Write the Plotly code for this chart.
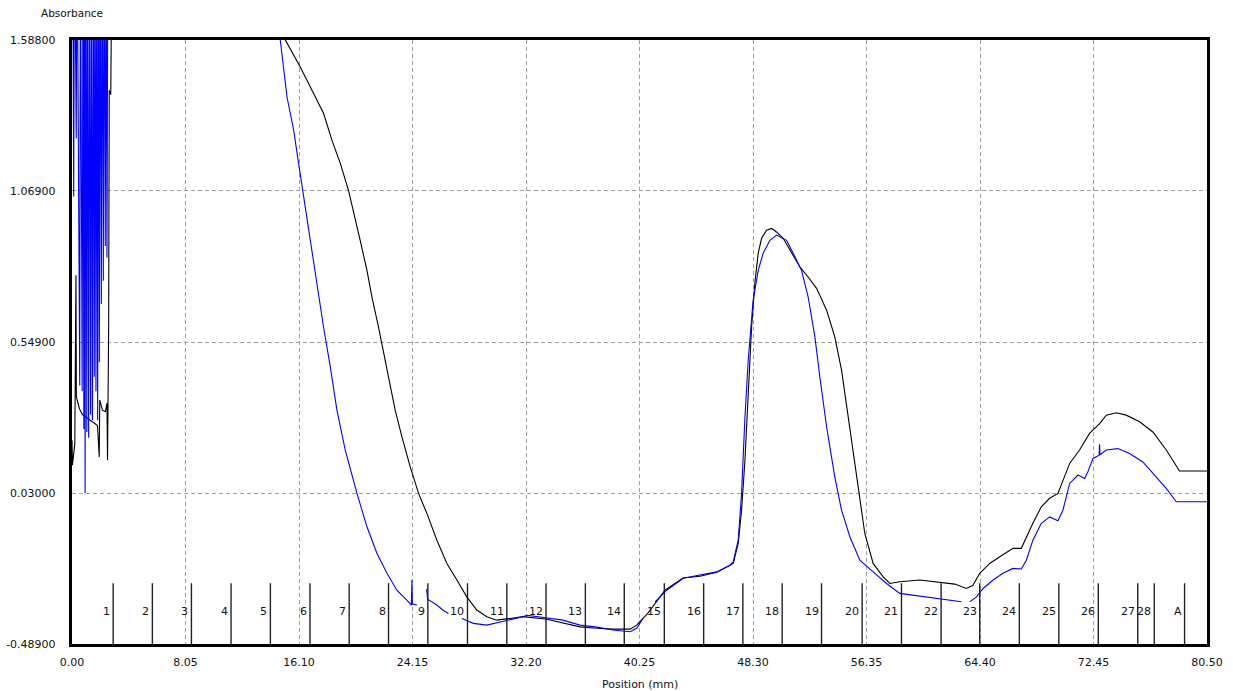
import plotly.graph_objects as go

# Off-scale readings (detector saturated) are stored as SAT; they lie above the plotted range.
SAT = 2.0

# ---- scan 1 (black) ----
black_pos = [
    0.00, 0.03, 0.20, 0.28, 0.31, 0.53, 0.74, 1.00, 1.30, 1.60,
    1.81, 1.93, 1.97, 2.16, 2.37, 2.48, 2.52, 2.60, 2.64, 2.75,
    2.85, 14.90, 15.13, 16.19, 17.13, 17.84, 18.44, 19.03, 19.61, 19.97,
    20.44, 20.92, 21.27, 21.74, 21.98, 22.45, 22.92, 23.40, 23.99, 24.58,
    25.17, 25.88, 26.59, 27.30, 28.00, 28.71, 29.42, 30.13, 31.07, 32.02,
    33.67, 34.85, 36.03, 37.22, 38.39, 39.58, 40.05, 40.85, 41.42, 42.06,
    43.33, 44.54, 45.74, 46.90, 47.25, 47.49, 47.73, 47.96, 48.20, 48.43,
    48.67, 48.91, 49.26, 49.62, 49.97, 50.44, 51.03, 51.62, 52.21, 52.81,
    53.52, 54.10, 54.58, 55.04, 55.64, 56.23, 56.82, 57.53, 58.00, 58.71,
    60.13, 61.54, 62.61, 63.44, 63.90, 64.38, 65.09, 65.80, 66.74, 67.33,
    67.69, 68.15, 68.75, 69.34, 69.93, 70.28, 70.76, 71.46, 72.17, 72.88,
    73.36, 74.07, 74.77, 75.72, 76.66, 77.61, 78.55, 80.50,
]
black_abs = [
    0.212, 0.126, 0.200, 0.779, 0.360, 0.320, 0.300, 0.290, 0.280, 0.270,
    0.262, 0.154, 0.350, 0.315, 0.310, 0.339, 0.143, 0.600, 1.415, 1.400,
    SAT, SAT, 1.588, 1.495, 1.404, 1.336, 1.243, 1.164, 1.071, 0.992,
    0.899, 0.796, 0.705, 0.601, 0.545, 0.430, 0.315, 0.223, 0.120, 0.029,
    -0.040, -0.132, -0.212, -0.269, -0.327, -0.372, -0.395, -0.407, -0.401, -0.395,
    -0.404, -0.418, -0.430, -0.435, -0.438, -0.438, -0.424, -0.383, -0.345, -0.304,
    -0.262, -0.256, -0.242, -0.212, -0.143, -0.029, 0.143, 0.373, 0.601, 0.752,
    0.855, 0.906, 0.934, 0.940, 0.928, 0.906, 0.855, 0.808, 0.773, 0.734,
    0.659, 0.567, 0.453, 0.292, 0.086, -0.109, -0.212, -0.258, -0.281, -0.275,
    -0.269, -0.276, -0.283, -0.298, -0.287, -0.246, -0.212, -0.189, -0.160, -0.160,
    -0.120, -0.074, -0.017, 0.012, 0.029, 0.074, 0.132, 0.178, 0.235, 0.269,
    0.298, 0.306, 0.298, 0.275, 0.240, 0.178, 0.106, 0.106,
]

# ---- scan 2 (blue); None marks breaks in the recorded trace ----
blue_pos = [
    0.05, 0.12, 0.18, 0.30, 0.36, 0.55, 0.60, 0.72, 0.78, 0.84,
    0.88, 0.93, 0.98, 1.05, 1.10, 1.18, 1.24, 1.32, 1.38, 1.45,
    1.52, 1.58, 1.64, 1.70, 1.76, 1.82, 1.88, 1.94, 2.00, 2.08,
    2.14, 2.22, 2.28, 2.36, 2.42, 2.48, 2.55, 14.55, 14.77, 15.25,
    15.72, 16.07, 16.43, 16.78, 17.13, 17.49, 17.84, 18.32, 18.79, 19.38,
    20.21, 20.92, 21.63, 22.34, 23.04, 23.75, 24.07, 24.11, 24.14, 24.46,
    None, 25.15, 25.22, 25.88, 26.30, 26.70, None, 27.65, 28.47, 29.42,
    30.36, 31.07, 31.99, 32.26, 33.67, 34.83, 36.03, 37.24, 38.37, 39.58,
    40.07, 40.50, None, 41.35, 42.18, 43.35, 44.54, 45.72, 46.67, 46.90,
    47.25, 47.49, 47.73, 47.96, 48.31, 48.67, 49.02, 49.50, 49.97, 50.68,
    51.15, 51.74, 52.21, 52.69, 53.04, 53.52, 54.10, 54.58, 55.17, 55.88,
    56.82, 57.77, 58.71, 61.05, 63.08, None, 63.67, 64.15, 64.62, 65.33,
    66.03, 66.74, 67.33, 67.69, 68.15, 68.75, 69.34, 69.93, 70.28, 70.76,
    71.35, 71.82, 72.05, 72.41, 72.85, 72.88, 72.91, 73.36, 74.18, 75.01,
    75.95, 76.90, 77.61, 78.32, 80.50,
]
blue_abs = [
    SAT, 1.050, SAT, 1.250, SAT, 0.400, SAT, 0.380, SAT, 0.250,
    SAT, 0.030, SAT, 0.240, SAT, 0.220, SAT, 0.300, SAT, 0.280,
    SAT, 0.430, SAT, 0.380, SAT, 0.280, SAT, 0.480, SAT, 0.680,
    SAT, 0.760, SAT, 0.880, SAT, 0.840, SAT, SAT, 1.588, 1.392,
    1.278, 1.164, 1.048, 0.934, 0.820, 0.705, 0.601, 0.464, 0.315, 0.178,
    0.029, -0.086, -0.178, -0.246, -0.304, -0.338, -0.355, -0.269, -0.352, -0.355,
    None, -0.300, -0.335, -0.355, -0.372, -0.384, None, -0.401, -0.418, -0.424,
    -0.413, -0.407, -0.395, -0.390, -0.400, -0.407, -0.424, -0.431, -0.441, -0.447,
    -0.434, -0.400, None, -0.344, -0.304, -0.263, -0.252, -0.241, -0.218, -0.206,
    -0.132, 0.029, 0.292, 0.487, 0.693, 0.796, 0.855, 0.899, 0.917, 0.899,
    0.855, 0.796, 0.705, 0.567, 0.430, 0.258, 0.086, -0.029, -0.120, -0.201,
    -0.241, -0.281, -0.315, -0.331, -0.344, None, -0.344, -0.327, -0.298, -0.269,
    -0.246, -0.229, -0.231, -0.201, -0.132, -0.074, -0.052, -0.065, -0.029, 0.063,
    0.092, 0.080, 0.103, 0.149, 0.160, 0.198, 0.162, 0.178, 0.183, 0.166,
    0.137, 0.086, 0.046, 0.000, 0.000,
]

assert len(black_pos) == len(black_abs)
assert len(blue_pos) == len(blue_abs)

# ---- fraction collector boundaries (mm) and their labels ----
fraction_edges = [
    2.92, 5.70, 8.47, 11.28, 14.07, 16.88, 19.66, 22.45, 25.24, 28.05,
    30.84, 33.62, 36.41, 39.17, 42.01, 44.80, 47.58, 50.37, 53.16, 56.04,
    58.83, 61.64, 64.38, 67.19, 69.99, 72.79, 75.59, 76.76, 78.91,
]
fraction_labels = [str(i) for i in range(1, 29)] + ["A"]

# ---- axes ----
x_ticks = [0.00, 8.05, 16.10, 24.15, 32.20, 40.25, 48.30, 56.35, 64.40, 72.45, 80.50]
y_ticks = [-0.489, 0.030, 0.549, 1.069, 1.588]
X_MIN, X_MAX = 0.0, 80.5
Y_MIN, Y_MAX = -0.489, 1.588

FONT = "DejaVu Sans, Verdana, sans-serif"

fig = go.Figure()

# fraction marker ticks along the baseline
mark_top = -0.280
mx, my = [], []
for e in fraction_edges:
    mx += [e, e, None]
    my += [Y_MIN, mark_top, None]
fig.add_trace(go.Scatter(x=mx, y=my, mode="lines",
                         line=dict(color="#222222", width=1.4),
                         hoverinfo="skip", showlegend=False))

fig.add_trace(go.Scatter(x=black_pos, y=black_abs, mode="lines",
                         line=dict(color="#000000", width=1.1),
                         connectgaps=False, showlegend=False))
fig.add_trace(go.Scatter(x=blue_pos, y=blue_abs, mode="lines",
                         line=dict(color="#0000ff", width=1.1),
                         connectgaps=False, showlegend=False))

annotations = []
for e, lab in zip(fraction_edges, fraction_labels):
    annotations.append(dict(x=e, y=-0.376, xref="x", yref="y", text=lab,
                            showarrow=False, xanchor="right", yanchor="middle",
                            xshift=-1, font=dict(family=FONT, size=11, color="#111111")))

annotations.append(dict(x=0, y=1, xref="paper", yref="paper", text="Absorbance",
                        showarrow=False, xanchor="center", yanchor="middle",
                        yshift=27, font=dict(family=FONT, size=10.5, color="#111111")))
annotations.append(dict(x=0.5, y=0, xref="paper", yref="paper", text="Position (mm)",
                        showarrow=False, xanchor="center", yanchor="middle",
                        yshift=-40, font=dict(family=FONT, size=11, color="#111111")))

grid = dict(showgrid=True, gridcolor="#a0a0a0", gridwidth=1, griddash="4px,3px",
            zeroline=False, showline=True, linecolor="#000000", linewidth=3.4,
            mirror=True, ticks="", automargin=False,
            tickfont=dict(family=FONT, size=11, color="#111111"))

fig.update_layout(
    width=1233, height=691, autosize=False,
    margin=dict(l=72, r=26, t=40, b=47),
    paper_bgcolor="#ffffff", plot_bgcolor="#ffffff",
    showlegend=False,
    annotations=annotations,
    xaxis=dict(range=[X_MIN, X_MAX], tickvals=x_ticks,
               ticktext=[f"{v:.2f}" for v in x_ticks],
               ticklabelstandoff=6, **grid),
    yaxis=dict(range=[Y_MIN, Y_MAX], tickvals=y_ticks,
               ticktext=[f"{v:.5f}" for v in y_ticks],
               ticklabelstandoff=11, **grid),
)

fig.write_html("out.html", config={"displayModeBar": False})
